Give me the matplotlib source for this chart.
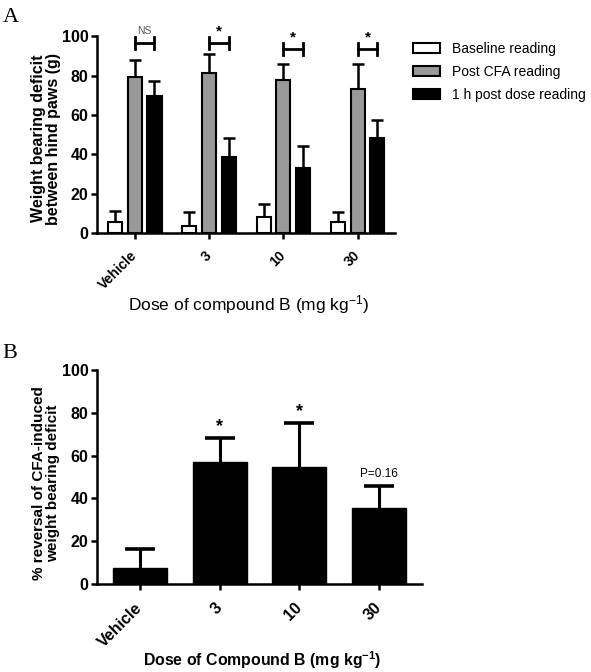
import numpy as np
import matplotlib
matplotlib.use("Agg")
import matplotlib.pyplot as plt
from matplotlib.patches import Patch

plt.rcParams['font.family'] = ['Liberation Sans', 'DejaVu Sans']
plt.rcParams['mathtext.fontset'] = 'custom'
plt.rcParams['mathtext.rm'] = 'Liberation Sans'
plt.rcParams['mathtext.bf'] = 'Liberation Sans:bold'
plt.rcParams['mathtext.it'] = 'Liberation Sans:italic'

# ---- data ----
groups = ["Vehicle", "3", "10", "30"]
baseline = [5.7, 3.7, 8.3, 5.7]
baseline_err = [5.6, 7.0, 6.3, 5.1]
post_cfa = [79.4, 81.4, 77.8, 73.3]
post_cfa_err = [8.4, 9.5, 8.0, 12.5]
post_dose = [69.9, 38.7, 33.2, 48.4]
post_dose_err = [7.6, 9.7, 11.3, 9.0]
sig_a = ["NS", "*", "*", "*"]
bracket_y = [96.5, 96.5, 93.5, 93.5]

reversal = [7.6, 56.9, 54.8, 35.7]
reversal_err = [8.8, 11.3, 20.6, 10.1]
sig_b = ["", "*", "*", "P=0.16"]

series_labels = ["Baseline reading", "Post CFA reading", "1 h post dose reading"]
series_colors = ["white", "#999999", "black"]


def upper_errorbar(ax, xs, v, e, lw, cap, capthick):
    v = np.asarray(v, float)
    e = np.asarray(e, float)
    ax.errorbar(xs, v, yerr=[np.zeros(len(v)), e], fmt="none", ecolor="black",
                elinewidth=lw, capsize=0, zorder=1)
    ax.plot(xs, v + e, ls="none", marker="_", ms=2 * cap, mew=capthick,
            color="black", zorder=1, clip_on=False)


fig = plt.figure(figsize=(5.91, 6.72), dpi=100)

# ---------------- Panel A ----------------
axA = fig.add_axes([0.164, 0.653, 0.504, 0.293])
x = np.arange(len(groups))
w = 0.19
off = 0.265
vals = [baseline, post_cfa, post_dose]
errs = [baseline_err, post_cfa_err, post_dose_err]
for i, (v, e, c) in enumerate(zip(vals, errs, series_colors)):
    xs = x + (i - 1) * off
    axA.bar(xs, v, width=w, color=c, edgecolor="black", linewidth=1.5, zorder=2)
    upper_errorbar(axA, xs, v, e, 1.8, 4, 1.8)

for i in range(len(groups)):
    x0, x1 = x[i], x[i] + off
    yb = bracket_y[i]
    axA.plot([x0, x1], [yb, yb], color="black", lw=2, clip_on=False)
    axA.plot([x0, x0], [yb - 3, yb + 3], color="black", lw=2, clip_on=False)
    axA.plot([x1, x1], [yb - 3, yb + 3], color="black", lw=2, clip_on=False)
    if sig_a[i] == "NS":
        axA.text((x0 + x1) / 2, yb + 3.8, "NS", ha="center", va="bottom",
                 fontsize=7.5, color="#555555")
    else:
        axA.text((x0 + x1) / 2, yb + 2.5, "*", ha="center", va="bottom",
                 fontsize=11, fontweight="bold")

axA.set_xlim(-0.51, 3.5)
axA.set_ylim(0, 100)
axA.set_yticks([0, 20, 40, 60, 80, 100])
axA.set_xticks(x)
axA.set_xticklabels(groups, rotation=45, ha="right", va="center",
                    rotation_mode="anchor", fontsize=10, fontweight="bold")
for lab in axA.get_yticklabels():
    lab.set_fontweight("bold")
    lab.set_fontsize(11.5)
axA.spines["top"].set_visible(False)
axA.spines["right"].set_visible(False)
for s in ["left", "bottom"]:
    axA.spines[s].set_linewidth(1.8)
axA.tick_params(width=1.8, length=4.5, direction="out")
axA.tick_params(axis="y", pad=1.5)
axA.tick_params(axis="x", pad=10)
axA.set_ylabel("Weight bearing deficit\nbetween hind paws (g)", fontsize=11.5,
               fontweight="bold", linespacing=1.0)
axA.yaxis.set_label_coords(-0.121, 0.48)
fig.text(249 / 591, 1 - 310 / 672, "Dose of compound B (mg kg$^{\\mathrm{-1}}$)",
         fontsize=12.5, ha="center", va="baseline")

handles = [Patch(facecolor=c, edgecolor="black", linewidth=1.5) for c in series_colors]
fig.legend(handles, series_labels, loc="upper left", bbox_to_anchor=(0.69, 0.946),
           frameon=False, fontsize=10, handlelength=1.9, handleheight=0.7,
           labelspacing=0.65, handletextpad=0.9, borderaxespad=0)

fig.text(0.004, 1 - 22 / 672, "A", fontsize=16, family="Liberation Serif", va="baseline")

# ---------------- Panel B ----------------
axB = fig.add_axes([0.164, 0.131, 0.550, 0.318])
axB.bar(x, reversal, width=0.68, color="black", edgecolor="black", zorder=2)
upper_errorbar(axB, x, reversal, reversal_err, 2.2, 10.5, 2.6)
for i, s in enumerate(sig_b):
    top = reversal[i] + reversal_err[i]
    if s == "*":
        axB.text(x[i], top + 1.5, "*", ha="center", va="bottom", fontsize=13,
                 fontweight="bold")
    elif s:
        axB.text(x[i], top + 2.8, s, ha="center", va="bottom", fontsize=8.5)

axB.set_xlim(-0.54, 3.54)
axB.set_ylim(0, 100)
axB.set_yticks([0, 20, 40, 60, 80, 100])
axB.set_xticks(x)
axB.set_xticklabels(groups, rotation=45, ha="right", va="center",
                    rotation_mode="anchor", fontsize=11.5, fontweight="bold")
for lab in axB.get_yticklabels():
    lab.set_fontweight("bold")
    lab.set_fontsize(11.5)
axB.spines["top"].set_visible(False)
axB.spines["right"].set_visible(False)
for s in ["left", "bottom"]:
    axB.spines[s].set_linewidth(1.8)
axB.tick_params(width=1.8, length=4.5, direction="out")
axB.tick_params(axis="y", pad=1.5)
axB.tick_params(axis="x", pad=11)
axB.set_ylabel("% reversal of CFA-induced\nweight bearing deficit", fontsize=11,
               fontweight="bold", linespacing=1.0)
axB.yaxis.set_label_coords(-0.114, 0.47)
fig.text(262 / 591, 1 - 666 / 672, "Dose of Compound B (mg kg$^{\\mathbf{-1}}$)",
         fontsize=11.4, fontweight="bold", ha="center", va="baseline")

fig.text(0.004, 1 - 358 / 672, "B", fontsize=16, family="Liberation Serif", va="baseline")

fig.savefig("out.png", dpi=100)
